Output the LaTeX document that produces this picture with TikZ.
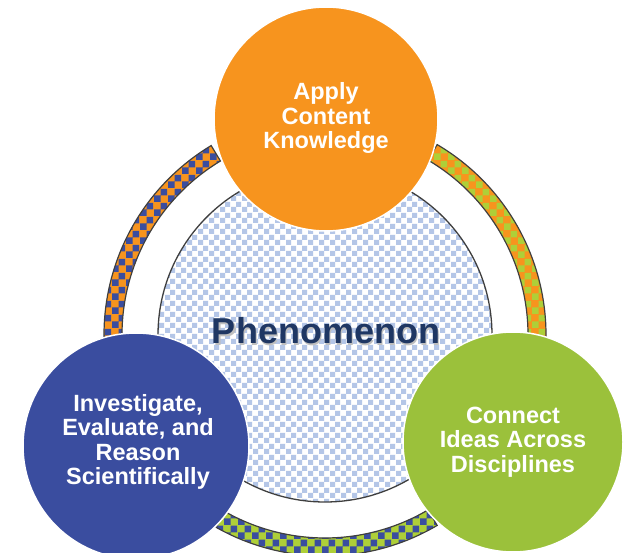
\documentclass[tikz,border=0pt]{standalone}
\usepackage{fontspec}
\setmainfont{Liberation Sans}
\usetikzlibrary{patterns}
\definecolor{corange}{HTML}{F7941E}
\definecolor{cblue}{HTML}{3A4D9F}
\definecolor{cgreen}{HTML}{9BC13B}
\definecolor{rgreen}{HTML}{AECF38}
\definecolor{clight}{HTML}{B4C6E7}
\definecolor{cnavy}{HTML}{1F3763}
\definecolor{cline}{HTML}{3F3F3F}
\pgfdeclarepatternformonly{bigchecker}{\pgfpointorigin}{\pgfpoint{11pt}{11pt}}{\pgfpoint{11pt}{11pt}}{%
  \pgfpathrectangle{\pgfpointorigin}{\pgfpoint{5.55pt}{5.55pt}}%
  \pgfpathrectangle{\pgfpoint{5.5pt}{5.5pt}}{\pgfpoint{5.55pt}{5.55pt}}%
  \pgfusepath{fill}}
\pgfdeclarepatternformonly{ringchecker}{\pgfpointorigin}{\pgfpoint{14pt}{14pt}}{\pgfpoint{14pt}{14pt}}{%
  \pgfpathrectangle{\pgfpointorigin}{\pgfpoint{7.05pt}{7.05pt}}%
  \pgfpathrectangle{\pgfpoint{7pt}{7pt}}{\pgfpoint{7.05pt}{7.05pt}}%
  \pgfusepath{fill}}
\tikzset{
  ringseg/.style={draw=cline, line width=1.2pt, preaction={fill=#1}},
  bubble/.style={circle, draw=white, line width=1.5pt, fill=#1, inner sep=0pt},
  bubbletext/.style={text=white, font=\bfseries\fontsize{23.5}{24.5}\selectfont, align=center}
}
\begin{document}
\begin{tikzpicture}[x=1pt,y=1pt]
\useasboundingbox (0,0) rectangle (624,552);
% central circle
\node[circle, minimum size=334pt, inner sep=0pt, draw=cline, line width=1.3pt,
  preaction={fill=white}, pattern=bigchecker, pattern color=clight] (core) at (325,217) {};
% ring segments
\begin{scope}[shift={(325,217)}]
\draw[ringseg=corange, pattern=ringchecker, pattern color=cblue]
  (121:221) arc[start angle=121, end angle=186, radius=221] -- (186:203)
  arc[start angle=186, end angle=121, radius=203] -- cycle;
\draw[ringseg=corange, pattern=ringchecker, pattern color=rgreen]
  (59.5:221) arc[start angle=59.5, end angle=-6, radius=221] -- (-6:203)
  arc[start angle=-6, end angle=59.5, radius=203] -- cycle;
\draw[ringseg=rgreen, pattern=ringchecker, pattern color=cblue]
  (-119.5:221) arc[start angle=-119.5, end angle=-59.5, radius=221] -- (-59.5:203)
  arc[start angle=-59.5, end angle=-119.5, radius=203] -- cycle;
\end{scope}
% phenomenon label
\node[anchor=base, text=black!25, font=\bfseries\fontsize{36}{40}\selectfont] (phshadow) at (327.5,206.5) {Phenomenon};
\node[anchor=base, text=cnavy, font=\bfseries\fontsize{36}{40}\selectfont] (phen) at (326,208) {Phenomenon};
% bubbles
\node[bubble=corange, minimum size=224pt] (apply) at (326,433) {};
\node[bubble=cblue, minimum size=226pt] (invest) at (136,106) {};
\node[bubble=cgreen, minimum size=220pt] (connect) at (513,110) {};
\node[bubbletext] (applyt) at (326,434) {Apply\\Content\\Knowledge};
\node[bubbletext] (investt) at (138,110) {Investigate,\\Evaluate, and\\Reason\\Scientifically};
\node[bubbletext] (connectt) at (513,110) {Connect\\Ideas Across\\Disciplines};
\end{tikzpicture}
\end{document}
